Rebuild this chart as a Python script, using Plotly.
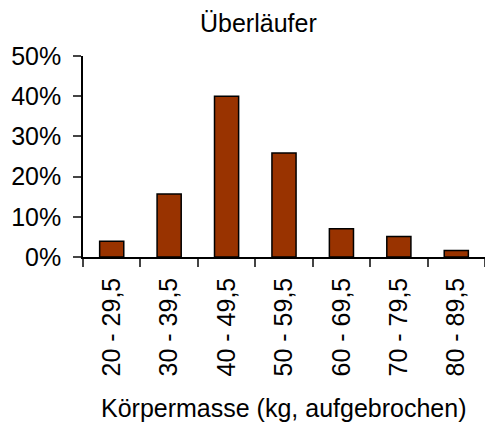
import plotly.graph_objects as go

categories = ["20 - 29,5", "30 - 39,5", "40 - 49,5", "50 - 59,5", "60 - 69,5", "70 - 79,5", "80 - 89,5"]
values = [0.039, 0.157, 0.400, 0.259, 0.070, 0.051, 0.016]
title_text = "Überläufer"
xaxis_title = "Körpermasse (kg, aufgebrochen)"

W, H = 485, 422
L, R, T, B = 83, 0, 56, 165
FONT = "Liberation Sans, Arial, sans-serif"
FS = 25

fig = go.Figure(go.Bar(
    x=categories, y=values,
    marker=dict(color="#993300", line=dict(color="black", width=1.5)),
))

fig.update_layout(
    width=W, height=H,
    margin=dict(l=L, r=R, t=T, b=B, autoexpand=False),
    paper_bgcolor="white", plot_bgcolor="white",
    bargap=0.58,
    showlegend=False,
    font=dict(family=FONT, size=FS, color="black"),
)
fig.update_xaxes(
    type="category", tickson="boundaries", ticks="outside", ticklen=8,
    tickcolor="#444", tickwidth=1.5, showline=True, linecolor="black", linewidth=1.5,
    tickangle=-90, showgrid=False, tickfont=dict(size=FS), ticklabelstandoff=9,
)
fig.update_yaxes(
    range=[0, 0.5], dtick=0.1, tickformat=".0%", ticks="outside", ticklen=8,
    tickcolor="#444", tickwidth=1.5, showline=True, linecolor="black", linewidth=1.5,
    showgrid=False, zeroline=False, tickfont=dict(size=FS), ticklabelstandoff=7,
)

pw = W - L - R
ph = H - T - B
fig.add_annotation(
    text=title_text, x=(258 - L) / pw, y=1 + (T - 23) / ph, xref="paper", yref="paper",
    showarrow=False, xanchor="center", yanchor="middle", font=dict(size=FS, family=FONT),
)
fig.add_annotation(
    text=xaxis_title, x=(283 - L) / pw, y=-(408 - (H - B)) / ph, xref="paper", yref="paper",
    showarrow=False, xanchor="center", yanchor="middle", font=dict(size=FS, family=FONT),
)

fig.write_html(
    "out.html",
    config={"displayModeBar": False},
    post_script="document.body.style.margin='0';document.body.style.overflow='hidden';",
)
